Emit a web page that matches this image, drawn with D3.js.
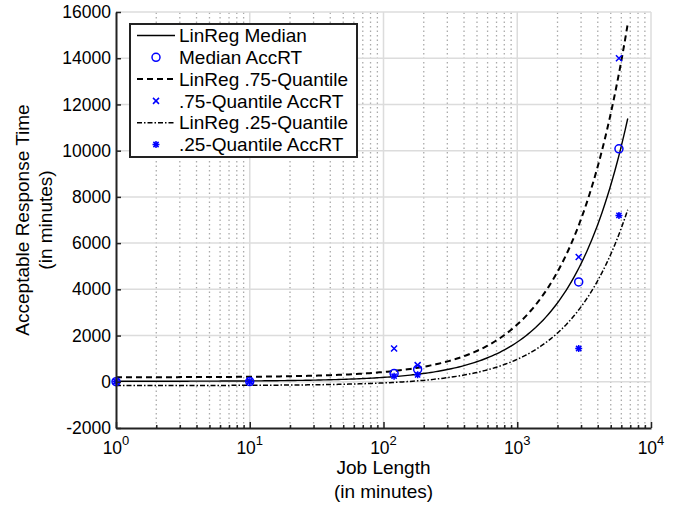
<!DOCTYPE html>
<html>
<head>
<meta charset="utf-8">
<script src="https://cdn.jsdelivr.net/npm/d3@7"></script>
<style>
  body { margin: 0; background: #fff; }
  svg { font-family: "Liberation Sans", Arial, sans-serif; }
</style>
</head>
<body>
<svg class="chart"></svg>
<script>
  var jobLength = [1, 10, 120, 180, 2880, 5760];
  var medianAccRT = [2, 10, 360, 540, 4320, 10080];
  var q75AccRT = [5, 30, 1440, 720, 5400, 14000];
  var q25AccRT = [1, 5, 240, 300, 1440, 7200];

  var fitRange = [1, 6700];
  var xTicks = [1, 10, 100, 1000, 10000];
  var yTicks = [-2000, 0, 2000, 4000, 6000, 8000, 10000, 12000, 14000, 16000];
  var legendLabels = ["LinReg Median", "Median AccRT", "LinReg .75-Quantile",
                      ".75-Quantile AccRT", "LinReg .25-Quantile", ".25-Quantile AccRT"];

  var width = 686, height = 506;
  var margin = {top: 12, right: 35, bottom: 78, left: 116};
  var blue = "#0000ff";

  var x = d3.scaleLog()
      .domain([1, 10000])
      .range([margin.left, width - margin.right]);

  var y = d3.scaleLinear()
      .domain([-2000, 16000])
      .range([height - margin.bottom, margin.top]);

  var svg = d3.select(".chart")
      .attr("width", width)
      .attr("height", height);

  // minor log positions 2..9 of each decade
  var minor = [];
  xTicks.slice(0, -1).forEach(function(t) {
    d3.range(2, 10).forEach(function(k) { minor.push(t * k); });
  });

  // grid
  var grid = svg.append("g");
  grid.selectAll(".minor").data(minor).enter().append("line")
      .attr("x1", x).attr("x2", x)
      .attr("y1", y(-2000)).attr("y2", y(16000))
      .attr("stroke", "#aaaaaa").attr("stroke-width", 1.3)
      .attr("stroke-dasharray", "1.5,3");
  grid.selectAll(".xmaj").data(xTicks.slice(1)).enter().append("line")
      .attr("x1", x).attr("x2", x)
      .attr("y1", y(-2000)).attr("y2", y(16000))
      .attr("stroke", "#dcdcdc").attr("stroke-width", 1.5);
  grid.selectAll(".ymaj").data(yTicks.slice(1)).enter().append("line")
      .attr("x1", x(1)).attr("x2", x(10000))
      .attr("y1", y).attr("y2", y)
      .attr("stroke", "#dcdcdc").attr("stroke-width", 1.5);

  // least squares fits of the quantile points
  function linreg(xs, ys) {
    var mx = d3.mean(xs), my = d3.mean(ys);
    var sxy = d3.sum(xs, function(v, i) { return (v - mx) * (ys[i] - my); });
    var sxx = d3.sum(xs, function(v) { return (v - mx) * (v - mx); });
    var b = sxy / sxx;
    return {a: my - b * mx, b: b};
  }

  var fitX = d3.range(0, 201).map(function(i) {
    return fitRange[0] * Math.pow(fitRange[1] / fitRange[0], i / 200);
  });

  var fits = [
    {fit: linreg(jobLength, medianAccRT), dash: null, w: 1.4},
    {fit: linreg(jobLength, q75AccRT), dash: "6,4", w: 2},
    {fit: linreg(jobLength, q25AccRT), dash: "5,2,1.5,2", w: 1.5}
  ];

  var line = d3.line()
      .x(function(d) { return x(d[0]); })
      .y(function(d) { return y(d[1]); });

  svg.selectAll(".fit").data(fits).enter().append("path")
      .attr("fill", "none")
      .attr("stroke", "#000")
      .attr("stroke-width", function(d) { return d.w; })
      .attr("stroke-dasharray", function(d) { return d.dash; })
      .attr("d", function(d) {
        return line(fitX.map(function(v) { return [v, d.fit.a + d.fit.b * v]; }));
      });

  // markers
  function circle(g) {
    g.append("circle").attr("r", 4).attr("fill", "none")
      .attr("stroke", blue).attr("stroke-width", 1.5);
  }
  function cross(g) {
    g.append("path").attr("d", "M-3,-3L3,3M-3,3L3,-3")
      .attr("stroke", blue).attr("stroke-width", 1.5);
  }
  function star(g) {
    g.append("path").attr("d", "M-3.5,0L3.5,0M0,-3.5L0,3.5M-2.6,-2.6L2.6,2.6M-2.6,2.6L2.6,-2.6")
      .attr("stroke", blue).attr("stroke-width", 1.5);
  }

  var series = [[medianAccRT, circle], [q75AccRT, cross], [q25AccRT, star]];
  series.forEach(function(s) {
    svg.append("g").selectAll("g")
        .data(s[0])
        .enter().append("g")
        .attr("transform", function(d, i) { return "translate(" + x(jobLength[i]) + "," + y(d) + ")"; })
        .each(function() { s[1](d3.select(this)); });
  });

  // axes
  var yAxis = svg.append("g")
      .attr("transform", "translate(" + x(1) + ",0)")
      .call(d3.axisLeft(y).tickValues(yTicks).tickSize(-5).tickSizeOuter(0).tickPadding(5)
        .tickFormat(function(d) { return d; }));

  svg.append("g")
      .attr("transform", "translate(0," + y(-2000) + ")")
      .call(d3.axisBottom(x).tickValues(xTicks).tickSize(-6).tickSizeOuter(0).tickFormat(""));

  svg.append("g")
      .attr("transform", "translate(0," + y(-2000) + ")")
      .call(d3.axisBottom(x).tickValues(minor).tickSize(-3).tickSizeOuter(0).tickFormat(""))
      .select(".domain").remove();

  svg.selectAll(".domain").attr("stroke", "#222").attr("stroke-width", 2);
  svg.selectAll(".tick line").attr("stroke", "#222").attr("stroke-width", 1.5);
  yAxis.selectAll("text").attr("font-size", 17.5).attr("fill", "#000")
      .attr("font-family", "Liberation Sans, Arial, sans-serif");

  var xl = svg.append("g").selectAll("text")
      .data(xTicks)
      .enter().append("text")
      .attr("x", x)
      .attr("y", y(-2000) + 26)
      .attr("text-anchor", "middle")
      .attr("font-size", 17.5);
  xl.append("tspan").text("10");
  xl.append("tspan").attr("dy", -9).attr("font-size", 13)
      .text(function(d) { return Math.round(Math.log10(d)); });

  // axis titles
  var cx = (x(1) + x(10000)) / 2;
  svg.append("text").attr("x", cx).attr("y", 474).attr("text-anchor", "middle")
      .attr("font-size", 19).text("Job Length");
  svg.append("text").attr("x", cx).attr("y", 498).attr("text-anchor", "middle")
      .attr("font-size", 19).text("(in minutes)");

  var cy = (y(-2000) + y(16000)) / 2;
  svg.append("text").attr("transform", "translate(29," + cy + ") rotate(-90)")
      .attr("text-anchor", "middle").attr("font-size", 19).text("Acceptable Response Time");
  svg.append("text").attr("transform", "translate(52," + cy + ") rotate(-90)")
      .attr("text-anchor", "middle").attr("font-size", 19).text("(in minutes)");

  // legend
  var legend = svg.append("g").attr("transform", "translate(130,24)");
  legend.append("rect").attr("width", 227).attr("height", 133)
      .attr("fill", "#fff").attr("stroke", "#222").attr("stroke-width", 2);

  var rows = legend.selectAll(".row")
      .data(legendLabels)
      .enter().append("g")
      .attr("transform", function(d, i) { return "translate(0," + (11.5 + i * 21.8) + ")"; });

  rows.append("text")
      .attr("x", 49)
      .attr("dy", ".35em")
      .attr("font-size", 19)
      .text(function(d) { return d; });

  rows.each(function(d, i) {
    var r = d3.select(this);
    if (i % 2 === 0) {
      var f = fits[i / 2];
      r.append("line").attr("x1", 7).attr("x2", 45)
        .attr("stroke", "#000").attr("stroke-width", f.w)
        .attr("stroke-dasharray", f.dash);
    } else {
      var m = r.append("g").attr("transform", "translate(26,0)");
      series[(i - 1) / 2][1](m);
    }
  });
</script>
</body>
</html>
